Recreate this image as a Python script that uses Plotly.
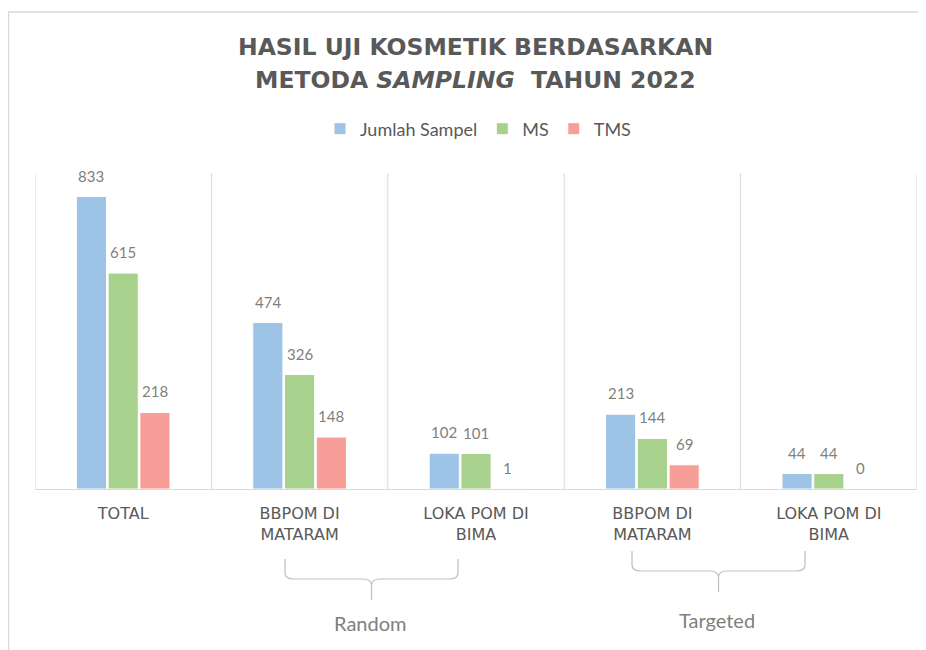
import plotly.graph_objects as go

categories = ["TOTAL", "BBPOM DI<br>MATARAM", "LOKA POM DI<br>BIMA", "BBPOM DI<br>MATARAM", "LOKA POM DI<br>BIMA"]
jumlah_sampel = [833, 474, 102, 213, 44]
ms = [615, 326, 101, 144, 44]
tms = [218, 148, 1, 69, 0]
series_names = ["Jumlah Sampel", "MS", "TMS"]
groups = ["Random", "Targeted"]
title_lines = ["<b>HASIL UJI KOSMETIK BERDASARKAN</b>", "<b>METODA <i>SAMPLING</i>  TAHUN 2022</b>"]

colors = ["#9DC3E6", "#A9D18E", "#F79E98"]
xs = list(range(len(categories)))
series = [jumlah_sampel, ms, tms]

BARGAP = 0.46
GROUPGAP = 0.05
slot = (1 - BARGAP) / len(series)

fig = go.Figure()
annotations = []
for k, (name, vals, col) in enumerate(zip(series_names, series, colors)):
    fig.add_trace(go.Bar(
        x=xs, y=vals, name=name,
        marker=dict(color=col, line=dict(color="white", width=1)),
    ))
    off = (k - (len(series) - 1) / 2) * slot
    for xi, v in zip(xs, vals):
        annotations.append(dict(x=xi + off, y=v, xref="x", yref="y", text=str(v),
                                showarrow=False, yanchor="bottom", xanchor="center", yshift=10,
                                font=dict(family="Lato", size=15, color="#7F7F7F")))


# page coords -> paper coords (page has 8px body margin)
def px(xp):
    return (xp - 35) / 882


def py(yp):
    return (489 - yp) / 316


shapes = []
for i in range(len(categories) + 1):
    shapes.append(dict(type="line", xref="x", yref="paper", x0=i - 0.5, x1=i - 0.5,
                       y0=0, y1=1, line=dict(color="#D9D9D9", width=1), layer="below"))
shapes.append(dict(type="rect", xref="paper", yref="paper", x0=px(8.5), x1=1.05,
                   y0=-0.6, y1=py(12), line=dict(color="#D9D9D9", width=1.5)))


def brace(x0, x1, ytop, ymid, ytip):
    xm = (x0 + x1) / 2
    r = 0.01
    ry = 0.02
    return (f"M {x0},{ytop} L {x0},{ymid + ry} Q {x0},{ymid} {x0 + r},{ymid} "
            f"L {xm - r},{ymid} Q {xm},{ymid} {xm},{ymid - ry} L {xm},{ytip} "
            f"M {xm},{ymid - ry} Q {xm},{ymid} {xm + r},{ymid} L {x1 - r},{ymid} "
            f"Q {x1},{ymid} {x1},{ymid + ry} L {x1},{ytop}")


brace_specs = [(285, 458, 559, 579, 600, 370, 623), (632, 805, 551, 571, 592, 717, 620)]
for g, (bx0, bx1, bt, bm, btip, lx, ly) in zip(groups, brace_specs):
    shapes.append(dict(type="path", xref="paper", yref="paper",
                       path=brace(px(bx0), px(bx1), py(bt), py(bm), py(btip)),
                       line=dict(color="#BFBFBF", width=1.2)))
    annotations.append(dict(text=g, xref="paper", yref="paper", x=px(lx), y=py(ly),
                            showarrow=False, yanchor="middle", xanchor="center",
                            font=dict(family="Lato", size=20, color="#7F7F7F")))

for line, yp in zip(title_lines, [47, 80]):
    annotations.append(dict(text=line, xref="paper", yref="paper", x=px(475), y=py(yp),
                            showarrow=False, yanchor="middle", xanchor="center",
                            font=dict(family="DejaVu Sans", size=23.5, color="#595959")))

fig.update_layout(
    width=926, height=650,
    margin=dict(l=27, r=17, t=165, b=169),
    paper_bgcolor="white", plot_bgcolor="white",
    barmode="group", bargap=BARGAP, bargroupgap=GROUPGAP,
    showlegend=True,
    legend=dict(orientation="h", x=px(478), xanchor="center", y=py(129), yanchor="middle",
                font=dict(family="Lato", size=18, color="#595959"), itemwidth=30,
                traceorder="normal"),
    xaxis=dict(tickmode="array", tickvals=xs, ticktext=categories, range=[-0.5, len(categories) - 0.5],
               showgrid=False, zeroline=False, showline=True, linecolor="#D9D9D9", ticks="",
               tickfont=dict(family="DejaVu Sans", size=16, color="#595959"), ticklabelstandoff=10),
    yaxis=dict(range=[0, 900], visible=False, showgrid=False),
    shapes=shapes, annotations=annotations,
)

fig.write_html("out.html")
